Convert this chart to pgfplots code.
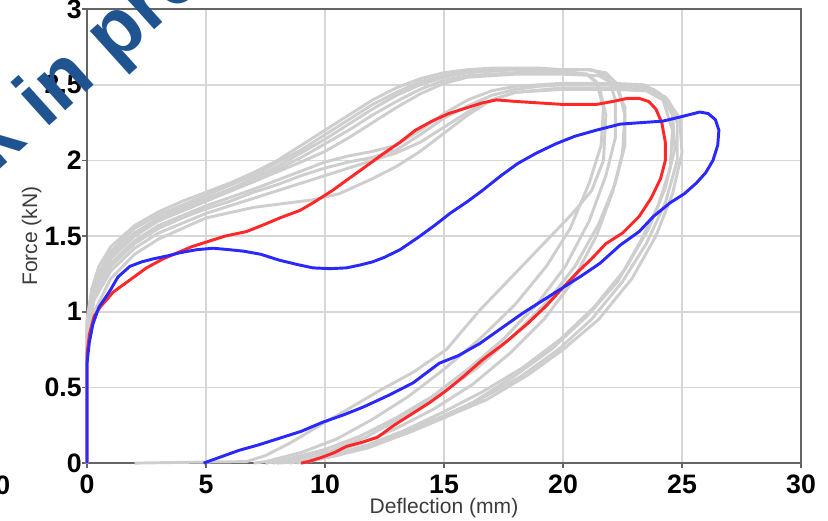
\documentclass[border=0pt]{standalone}
\usepackage{fontspec}
\setmainfont{Liberation Sans}
\usepackage{pgfplots}
\pgfplotsset{compat=1.18}
\definecolor{gc}{RGB}{206,206,206}
\definecolor{rc}{RGB}{255,40,40}
\definecolor{bc}{RGB}{40,40,255}
\definecolor{axc}{RGB}{100,100,100}
\definecolor{grc}{RGB}{215,215,215}
\definecolor{wm}{RGB}{31,84,145}
\definecolor{lbl}{RGB}{60,60,60}
\pgfplotsset{gcurve/.style={gc, line width=2.2pt, line join=round}}
\begin{document}
\begin{tikzpicture}
\begin{axis}[
 scale only axis, width=535.5pt, height=340.5pt,
 xmin=0, xmax=30, ymin=0, ymax=3,
 xtick={0,5,10,15,20,25,30}, ytick={0,0.5,1,1.5,2,2.5,3},
 xticklabels={0,5,10,15,20,25,30},
 yticklabels={0,0.5,1,1.5,2,2.5,3},
 grid=major, major grid style={grc, line width=1.1pt},
 axis line style={axc, line width=1.1pt},
 tick style={axc, line width=1.1pt},
 tick align=outside, major tick length=3.75pt,
 xtick pos=bottom, ytick pos=left,
 /pgf/number format/assume math mode=true,
 ticklabel style={font=\fontsize{20}{22}\selectfont\bfseries, inner sep=0pt},
 xticklabel style={anchor=north, yshift=-5pt},
 yticklabel style={anchor=east, xshift=0pt},
 xlabel={Deflection (mm)}, ylabel={Force (kN)},
 every axis x label/.style={at={(axis description cs:0.5,-0.1101)}, anchor=base, font=\fontsize{15.8}{18}\selectfont, text=lbl},
 every axis y label/.style={at={(axis description cs:-0.0700,0.5)}, rotate=90, anchor=base, font=\fontsize{15.8}{18}\selectfont, text=lbl},
 clip=false,
]
% gray curves
\addplot[gcurve] coordinates {(0,0)(0,0.95)(0.2,1.15)(0.5,1.3)(1,1.43)(2,1.57)(3,1.66)(4,1.73)(5,1.79)(6,1.85)(7,1.92)(8,2.0)(9,2.1)(10,2.2)(11,2.3)(12,2.4)(13,2.48)(14,2.54)(15,2.58)(16,2.6)(17,2.61)(18,2.61)(19,2.61)(20,2.6)(21,2.6)(21.8,2.58)(22.3,2.5)(22.6,2.3)(22.5,2.05)(22.1,1.8)(21.4,1.5)(20.4,1.2)(19.2,0.95)(17.8,0.73)(16.2,0.52)(14.6,0.36)(13,0.23)(11.5,0.13)(10,0.06)(8.5,0.02)(7.5,0)};
\addplot[gcurve] coordinates {(0,0)(0,0.9)(0.2,1.1)(0.5,1.25)(1,1.38)(2,1.52)(3,1.62)(4,1.69)(5,1.75)(6,1.81)(7,1.88)(8,1.96)(9,2.05)(10,2.14)(11,2.24)(12,2.34)(13,2.43)(14,2.5)(15,2.55)(16,2.58)(17,2.59)(18,2.6)(19,2.6)(20,2.59)(21,2.57)(21.5,2.5)(21.8,2.3)(21.7,2.0)(21.2,1.8)(20.4,1.65)(19,1.42)(17.6,1.19)(16.5,1.01)(15.1,0.75)(13.7,0.6)(12.3,0.48)(11,0.36)(9.9,0.26)(8.5,0.13)(7.5,0.05)(6.7,0.01)(4,0.005)(2,0)};
\addplot[gcurve] coordinates {(0,0)(0,0.85)(0.3,1.15)(1,1.35)(2,1.5)(3,1.6)(5,1.73)(7,1.86)(9,2.02)(10,2.11)(11,2.2)(12,2.3)(13,2.39)(14,2.47)(15,2.53)(16,2.56)(18,2.58)(20,2.58)(21,2.57)(21.4,2.52)(21.7,2.35)(21.6,2.1)(21.1,1.85)(20.3,1.55)(19.3,1.3)(18,1.05)(16.5,0.82)(15,0.62)(13.5,0.44)(12,0.29)(10.5,0.16)(9,0.07)(7.5,0.01)(7,0)};
\addplot[gcurve] coordinates {(0,0)(0,0.92)(0.3,1.2)(1,1.4)(2,1.55)(3,1.64)(5,1.77)(7,1.9)(9,2.07)(10,2.17)(11,2.27)(12,2.37)(13,2.45)(14,2.52)(15,2.56)(16,2.59)(18,2.6)(20,2.6)(21.2,2.6)(21.9,2.55)(22.2,2.4)(22.2,2.15)(21.8,1.9)(21.1,1.6)(20.1,1.3)(18.9,1.05)(17.5,0.82)(16,0.62)(14.5,0.44)(13,0.3)(11.5,0.18)(10,0.09)(8.5,0.03)(7.5,0)};
\addplot[gcurve] coordinates {(0,0)(0,0.85)(0.3,1.12)(1,1.3)(2,1.45)(3,1.55)(4,1.62)(5,1.68)(6,1.73)(7,1.79)(8,1.84)(9,1.9)(10,1.95)(11,1.99)(12,2.02)(13,2.07)(14,2.17)(15,2.28)(16,2.36)(17,2.43)(18,2.47)(19,2.49)(20,2.5)(21,2.5)(22,2.5)(23,2.49)(23.8,2.47)(24.4,2.4)(24.8,2.25)(24.8,2.0)(24.3,1.72)(23.5,1.45)(22.5,1.2)(21.2,0.95)(19.8,0.75)(18.2,0.57)(16.5,0.42)(15,0.3)(13.5,0.2)(12,0.12)(10.5,0.05)(9,0.01)(8,0)};
\addplot[gcurve] coordinates {(0,0)(0,0.8)(0.3,1.08)(1,1.27)(2,1.42)(3,1.52)(5,1.65)(7,1.75)(9,1.85)(10,1.9)(11,1.95)(12,2.0)(13,2.05)(14,2.12)(15,2.22)(16,2.32)(17,2.4)(18,2.45)(20,2.48)(22,2.48)(23.5,2.47)(24.3,2.42)(24.9,2.28)(25,2.05)(24.6,1.78)(23.9,1.5)(22.9,1.22)(21.5,0.95)(20,0.75)(18.5,0.58)(16.8,0.42)(15,0.3)(13.3,0.19)(11.8,0.1)(10.2,0.04)(9,0)};
\addplot[gcurve] coordinates {(0,0)(0,0.75)(0.3,1.0)(1,1.22)(2,1.38)(3,1.48)(5,1.62)(7,1.69)(8,1.71)(9.5,1.74)(10.6,1.78)(12,1.88)(13,1.96)(14,2.06)(15,2.18)(16,2.3)(17,2.4)(18,2.45)(20,2.47)(22,2.47)(23.5,2.46)(24.2,2.4)(24.6,2.2)(24.5,1.95)(24,1.7)(23.2,1.45)(22.3,1.2)(21,0.97)(19.5,0.75)(18,0.58)(16.2,0.4)(14.8,0.3)(13,0.18)(11.5,0.1)(10,0.04)(8.5,0)};
\addplot[gcurve] coordinates {(0,0)(0,0.88)(0.3,1.13)(1,1.32)(2,1.47)(3,1.57)(5,1.7)(7,1.81)(9,1.93)(10,1.99)(11,2.03)(12,2.06)(13,2.1)(14,2.2)(15,2.31)(16,2.4)(17,2.46)(18,2.49)(20,2.51)(22,2.51)(23.4,2.5)(24.1,2.44)(24.6,2.3)(24.7,2.08)(24.3,1.82)(23.6,1.55)(22.6,1.28)(21.3,1.03)(19.9,0.82)(18.3,0.63)(16.6,0.47)(15,0.34)(13.4,0.22)(11.8,0.12)(10.2,0.05)(8.8,0)};
\addplot[gcurve] coordinates {(0,0)(0,0.93)(0.3,1.18)(1,1.37)(2,1.52)(3,1.61)(5,1.74)(7,1.86)(9,1.99)(10,2.06)(11,2.15)(12,2.25)(13,2.35)(14,2.44)(15,2.51)(16,2.55)(18,2.57)(20,2.57)(21.5,2.56)(22.2,2.5)(22.6,2.35)(22.6,2.1)(22.2,1.85)(21.5,1.58)(20.5,1.3)(19.3,1.06)(17.9,0.84)(16.4,0.63)(14.8,0.45)(13.2,0.3)(11.7,0.17)(10.2,0.08)(8.7,0.02)(7.8,0)};
% red
\addplot[rc, line width=2.2pt, line join=round] coordinates {(0,0)(0,0.72)(0.1,0.85)(0.3,0.97)(0.55,1.03)(1.1,1.13)(1.8,1.21)(2.5,1.29)(3.2,1.35)(3.8,1.39)(4.4,1.43)(5.0,1.46)(5.8,1.50)(6.7,1.53)(7.5,1.58)(8.1,1.62)(8.95,1.67)(9.5,1.72)(10.3,1.80)(11.0,1.88)(11.8,1.97)(12.5,2.05)(13.15,2.12)(13.8,2.2)(14.5,2.26)(15.2,2.31)(16.0,2.35)(16.6,2.38)(17.2,2.40)(18.0,2.39)(19.0,2.38)(20.0,2.37)(21.4,2.37)(22.1,2.39)(22.7,2.41)(23.2,2.41)(23.6,2.39)(23.9,2.34)(24.15,2.25)(24.3,2.12)(24.3,2.0)(24.1,1.88)(23.7,1.75)(23.2,1.63)(22.5,1.52)(21.8,1.45)(21.2,1.35)(20.6,1.26)(20.0,1.16)(19.3,1.04)(18.5,0.92)(17.6,0.80)(16.6,0.68)(15.8,0.57)(15.1,0.48)(14.4,0.40)(13.7,0.33)(12.9,0.25)(12.2,0.17)(11.6,0.14)(10.9,0.11)(10.4,0.07)(9.9,0.04)(9.3,0.01)(9.0,0)};
% blue
\addplot[bc, line width=2.2pt, line join=round] coordinates {(0,0)(0,0.66)(0.1,0.8)(0.25,0.92)(0.5,1.03)(0.97,1.14)(1.3,1.23)(1.8,1.30)(2.3,1.33)(2.8,1.35)(3.4,1.37)(3.9,1.39)(4.6,1.41)(5.3,1.42)(6.0,1.41)(6.6,1.40)(7.3,1.38)(8.1,1.34)(8.9,1.31)(9.5,1.29)(10.2,1.285)(10.9,1.29)(11.5,1.31)(12.0,1.33)(12.5,1.36)(13.15,1.41)(13.9,1.49)(14.6,1.57)(15.25,1.65)(16.0,1.73)(16.6,1.80)(17.4,1.90)(18.1,1.98)(18.9,2.05)(19.7,2.11)(20.5,2.16)(21.4,2.20)(22.4,2.24)(23.3,2.25)(24.2,2.26)(25.0,2.29)(25.75,2.32)(26.1,2.31)(26.4,2.27)(26.55,2.2)(26.5,2.1)(26.3,2.0)(26.0,1.92)(25.6,1.85)(25.1,1.78)(24.5,1.72)(23.8,1.63)(23.2,1.53)(22.4,1.44)(21.55,1.32)(20.8,1.24)(20.0,1.16)(19.2,1.08)(18.3,0.99)(17.4,0.89)(16.5,0.79)(15.6,0.71)(14.8,0.66)(13.7,0.53)(12.7,0.45)(11.6,0.37)(10.8,0.32)(9.9,0.27)(9.0,0.21)(8.1,0.165)(7.2,0.12)(6.4,0.085)(5.6,0.04)(4.9,0.0)};
\node[font=\fontsize{20}{22}\selectfont\bfseries, anchor=north east, inner sep=0pt] at (axis cs:-3.214,-0.0793) {0};
\node[font=\fontsize{60}{64}\selectfont\bfseries, text=wm, rotate=42, anchor=base, inner sep=0pt] at (axis cs:1.597,2.683) {Work in progress};
\coordinate (BL) at (axis cs:-3.6555,-0.3767);
\coordinate (TR) at (axis cs:31.134,3.0602);
\end{axis}
\pgfresetboundingbox
\path[use as bounding box] (BL) rectangle (TR);
\end{tikzpicture}
\end{document}
